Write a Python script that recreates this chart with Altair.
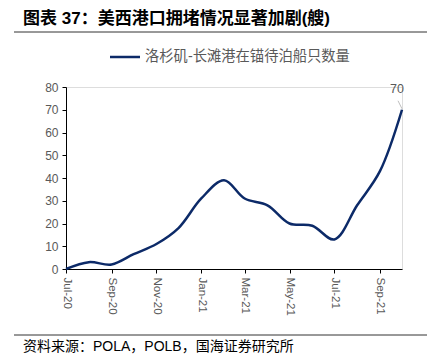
import altair as alt
import pandas as pd

months = ["2020-07-01", "2020-08-01", "2020-09-01", "2020-10-01", "2020-11-01", "2020-12-01",
          "2021-01-01", "2021-02-01", "2021-03-01", "2021-04-01", "2021-05-01", "2021-06-01",
          "2021-07-01", "2021-08-01", "2021-09-01", "2021-10-01"]
ships = [0, 3, 2, 6.5, 11, 18, 31, 39, 31, 28, 20, 19, 13, 28, 43, 70]
tick_dates = ["2020-07-01", "2020-09-01", "2020-11-01", "2021-01-01",
              "2021-03-01", "2021-05-01", "2021-07-01", "2021-09-01"]

title_text = "图表 37：美西港口拥堵情况显著加剧(艘)"
legend_text = "洛杉矶-长滩港在锚待泊船只数量"
source_text = "资料来源：POLA，POLB，国海证券研究所"

df = pd.DataFrame({"date": pd.to_datetime(months), "v": ships})
last = df.tail(1)

NAVY = "#0c2a68"
GRAY = "#595959"
FONT = "Liberation Sans, Noto Sans CJK SC, sans-serif"

W, H = 336, 182

x_enc = alt.X("date:T",
              scale=alt.Scale(domain=[pd.Timestamp("2020-07-01").isoformat(), pd.Timestamp("2021-10-01").isoformat()]),
              axis=alt.Axis(values=[pd.Timestamp(d).isoformat() for d in tick_dates], format="%b-%y",
                            labelAngle=90, labelAlign="left", labelBaseline="middle",
                            labelColor=GRAY, labelFontSize=11.5, labelFont=FONT, labelPadding=4,
                            labelOverlap=False,
                            tickSize=4, tickColor="#000000", domainColor="#000000",
                            grid=False, title=None))
y_enc = alt.Y("v:Q", scale=alt.Scale(domain=[0, 80], nice=False),
              axis=alt.Axis(values=list(range(0, 81, 10)), labelColor=GRAY, labelFontSize=12,
                            labelFont=FONT, tickSize=4, tickColor="#000000", domainColor="#000000",
                            labelOverlap=False,
                            grid=False, title=None, labelPadding=4))

line = alt.Chart(df).mark_line(interpolate="catmull-rom", color=NAVY, strokeWidth=2.5).encode(x=x_enc, y=y_enc)

label = alt.Chart(last).mark_text(fontSize=12.5, color=GRAY, font=FONT, dx=-5, dy=-21, baseline="middle").encode(
    x=x_enc, y=y_enc, text=alt.Text("v:Q", format="d"))
leader = alt.Chart(last).mark_rule(color="#bfbfbf", strokeWidth=1, xOffset=-4, yOffset=-9, x2Offset=0, y2Offset=-1).encode(
    x=x_enc, y=y_enc, x2="date:T", y2="v:Q")

title = alt.Chart(pd.DataFrame({"t": [title_text]})).mark_text(
    align="left", baseline="middle", fontSize=17, fontWeight="bold", font=FONT, color="#000000").encode(
    x=alt.value(-43), y=alt.value(-68), text="t:N")
title_rule = alt.Chart(pd.DataFrame({"a": [0]})).mark_rule(color="#333333", strokeWidth=1).encode(
    x=alt.value(-52), x2=alt.value(370), y=alt.value(-55))
leg_line = alt.Chart(pd.DataFrame({"a": [0]})).mark_rule(color=NAVY, strokeWidth=2.5).encode(
    x=alt.value(44), x2=alt.value(74), y=alt.value(-30))
leg_text = alt.Chart(pd.DataFrame({"t": [legend_text]})).mark_text(
    align="left", baseline="middle", fontSize=14.3, font=FONT, color=GRAY).encode(
    x=alt.value(79), y=alt.value(-30), text="t:N")
foot_rule = alt.Chart(pd.DataFrame({"a": [0]})).mark_rule(color="#333333", strokeWidth=1).encode(
    x=alt.value(-52), x2=alt.value(370), y=alt.value(248))
foot_text = alt.Chart(pd.DataFrame({"t": [source_text]})).mark_text(
    align="left", baseline="middle", fontSize=14, font=FONT, color="#000000").encode(
    x=alt.value(-43), y=alt.value(260), text="t:N")

chart = alt.layer(line, leader, label, title, title_rule, leg_line, leg_text, foot_rule, foot_text).properties(
    width=W, height=H,
    autosize=alt.AutoSizeParams(type="none"),
    padding={"left": 58, "top": 79, "right": 25, "bottom": 86},
).configure_view(stroke=None).configure(background="#ffffff")

chart.save("out.html", embed_options={"renderer": "svg", "actions": False})
